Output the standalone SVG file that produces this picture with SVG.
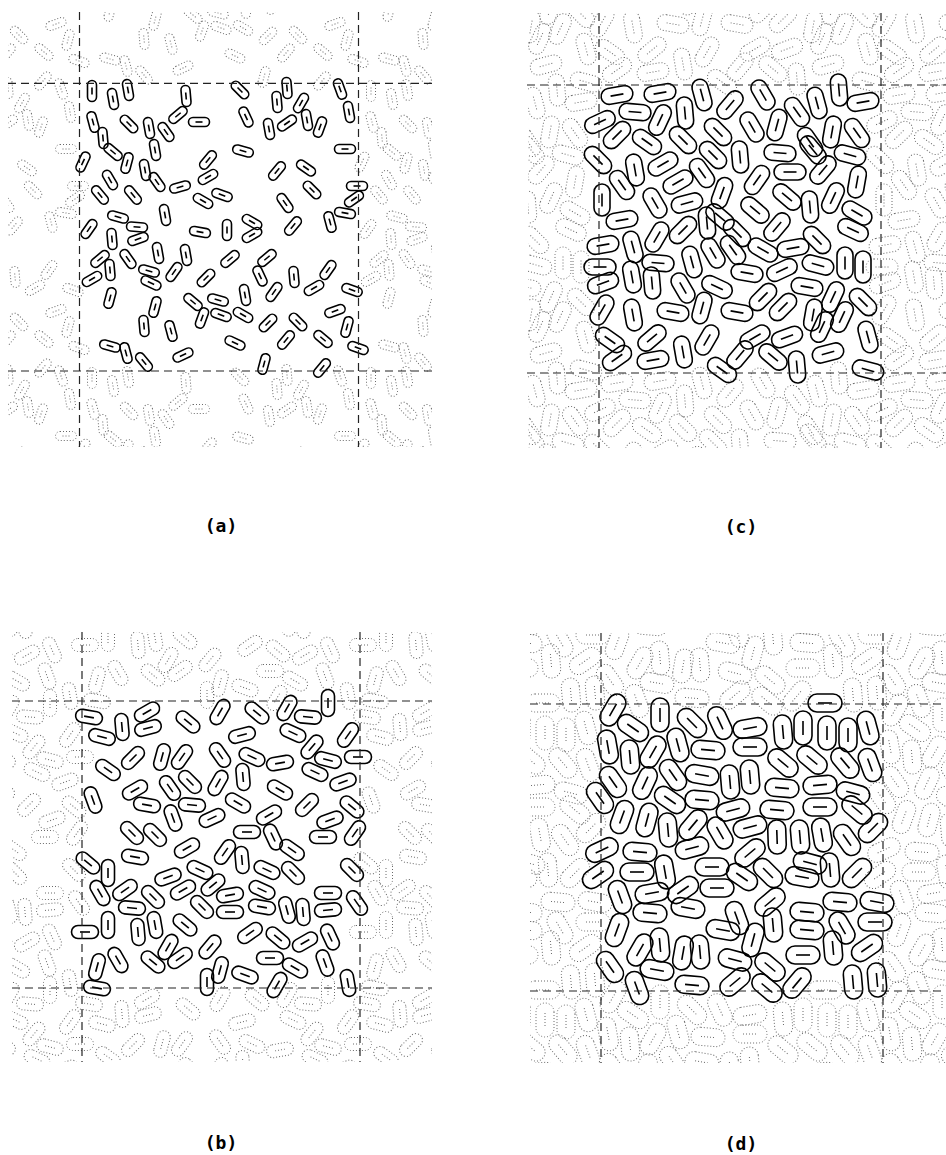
<svg xmlns="http://www.w3.org/2000/svg" width="946" height="1155" viewBox="0 0 946 1155">
<style>
.solid{fill:none;stroke:#000;stroke-width:1.6}
.img{fill:none;stroke:#6a6a6a;stroke-width:1;stroke-dasharray:1 2}
.box{fill:none;stroke:#222;stroke-width:1.2;stroke-dasharray:8 5}
.lbl{font-family:"DejaVu Sans Mono","Liberation Mono",monospace;font-size:18px;font-weight:bold;text-anchor:middle;fill:#000}
</style>
<defs>
<g id="cA"><rect x="-10.5" y="-4.5" width="21" height="9" rx="4.5"/><line x1="-3.5" y1="0" x2="3.5" y2="0"/></g>
<g id="cB"><rect x="-13.5" y="-6.5" width="27" height="13" rx="6.5"/><line x1="-5" y1="0" x2="5" y2="0"/></g>
<g id="cC"><rect x="-16" y="-8" width="32" height="16" rx="8"/><line x1="-6.5" y1="0" x2="6.5" y2="0"/></g>
<g id="cD"><rect x="-17" y="-9" width="34" height="18" rx="9"/><line x1="-7" y1="0" x2="7" y2="0"/></g>
<clipPath id="clipA"><rect x="8" y="12" width="424" height="435"/></clipPath>
<clipPath id="clipC"><rect x="528" y="13" width="418" height="435"/></clipPath>
<clipPath id="clipB"><rect x="12" y="632" width="420" height="430"/></clipPath>
<clipPath id="clipD"><rect x="530" y="633" width="416" height="430"/></clipPath>
<g id="pa">
<use href="#cA" transform="translate(92 91) rotate(90)"/>
<use href="#cA" transform="translate(113 99) rotate(80)"/>
<use href="#cA" transform="translate(128 90) rotate(80)"/>
<use href="#cA" transform="translate(186 96) rotate(85)"/>
<use href="#cA" transform="translate(240 90) rotate(45)"/>
<use href="#cA" transform="translate(287 88) rotate(85)"/>
<use href="#cA" transform="translate(277 102) rotate(85)"/>
<use href="#cA" transform="translate(301 103) rotate(-60)"/>
<use href="#cA" transform="translate(340 89) rotate(70)"/>
<use href="#cA" transform="translate(349 112) rotate(80)"/>
<use href="#cA" transform="translate(93 122) rotate(75)"/>
<use href="#cA" transform="translate(129 124) rotate(45)"/>
<use href="#cA" transform="translate(149 128) rotate(80)"/>
<use href="#cA" transform="translate(166 132) rotate(55)"/>
<use href="#cA" transform="translate(178 115) rotate(-40)"/>
<use href="#cA" transform="translate(199 122) rotate(0)"/>
<use href="#cA" transform="translate(246 117) rotate(65)"/>
<use href="#cA" transform="translate(269 129) rotate(80)"/>
<use href="#cA" transform="translate(287 123) rotate(-35)"/>
<use href="#cA" transform="translate(307 120) rotate(80)"/>
<use href="#cA" transform="translate(320 127) rotate(-70)"/>
<use href="#cA" transform="translate(103 138) rotate(85)"/>
<use href="#cA" transform="translate(113 152) rotate(40)"/>
<use href="#cA" transform="translate(155 150) rotate(80)"/>
<use href="#cA" transform="translate(127 163) rotate(-75)"/>
<use href="#cA" transform="translate(145 170) rotate(80)"/>
<use href="#cA" transform="translate(157 182) rotate(55)"/>
<use href="#cA" transform="translate(83 162) rotate(-65)"/>
<use href="#cA" transform="translate(110 180) rotate(60)"/>
<use href="#cA" transform="translate(180 187) rotate(-15)"/>
<use href="#cA" transform="translate(208 160) rotate(-50)"/>
<use href="#cA" transform="translate(208 177) rotate(-30)"/>
<use href="#cA" transform="translate(243 151) rotate(15)"/>
<use href="#cA" transform="translate(277 171) rotate(-50)"/>
<use href="#cA" transform="translate(306 168) rotate(35)"/>
<use href="#cA" transform="translate(345 149) rotate(0)"/>
<use href="#cA" transform="translate(312 190) rotate(45)"/>
<use href="#cA" transform="translate(357 186) rotate(0)"/>
<use href="#cA" transform="translate(354 199) rotate(-35)"/>
<use href="#cA" transform="translate(345 213) rotate(10)"/>
<use href="#cA" transform="translate(330 222) rotate(75)"/>
<use href="#cA" transform="translate(285 203) rotate(55)"/>
<use href="#cA" transform="translate(293 226) rotate(-50)"/>
<use href="#cA" transform="translate(222 195) rotate(20)"/>
<use href="#cA" transform="translate(203 201) rotate(30)"/>
<use href="#cA" transform="translate(165 215) rotate(80)"/>
<use href="#cA" transform="translate(133 195) rotate(50)"/>
<use href="#cA" transform="translate(100 195) rotate(50)"/>
<use href="#cA" transform="translate(118 217) rotate(15)"/>
<use href="#cA" transform="translate(137 227) rotate(5)"/>
<use href="#cA" transform="translate(138 239) rotate(-20)"/>
<use href="#cA" transform="translate(89 229) rotate(-55)"/>
<use href="#cA" transform="translate(112 239) rotate(85)"/>
<use href="#cA" transform="translate(200 232) rotate(10)"/>
<use href="#cA" transform="translate(227 230) rotate(90)"/>
<use href="#cA" transform="translate(252 222) rotate(30)"/>
<use href="#cA" transform="translate(252 235) rotate(-30)"/>
<use href="#cA" transform="translate(158 253) rotate(80)"/>
<use href="#cA" transform="translate(186 255) rotate(80)"/>
<use href="#cA" transform="translate(128 259) rotate(55)"/>
<use href="#cA" transform="translate(100 259) rotate(-40)"/>
<use href="#cA" transform="translate(92 279) rotate(-30)"/>
<use href="#cA" transform="translate(110 270) rotate(85)"/>
<use href="#cA" transform="translate(149 271) rotate(15)"/>
<use href="#cA" transform="translate(151 283) rotate(25)"/>
<use href="#cA" transform="translate(174 272) rotate(-55)"/>
<use href="#cA" transform="translate(230 259) rotate(-40)"/>
<use href="#cA" transform="translate(267 258) rotate(-40)"/>
<use href="#cA" transform="translate(260 276) rotate(65)"/>
<use href="#cA" transform="translate(206 278) rotate(-45)"/>
<use href="#cA" transform="translate(294 277) rotate(85)"/>
<use href="#cA" transform="translate(328 270) rotate(-55)"/>
<use href="#cA" transform="translate(314 288) rotate(-30)"/>
<use href="#cA" transform="translate(352 290) rotate(20)"/>
<use href="#cA" transform="translate(274 292) rotate(-55)"/>
<use href="#cA" transform="translate(245 295) rotate(80)"/>
<use href="#cA" transform="translate(110 298) rotate(-75)"/>
<use href="#cA" transform="translate(193 302) rotate(40)"/>
<use href="#cA" transform="translate(218 300) rotate(15)"/>
<use href="#cA" transform="translate(202 318) rotate(-70)"/>
<use href="#cA" transform="translate(155 307) rotate(-75)"/>
<use href="#cA" transform="translate(144 326) rotate(85)"/>
<use href="#cA" transform="translate(221 315) rotate(20)"/>
<use href="#cA" transform="translate(243 315) rotate(30)"/>
<use href="#cA" transform="translate(268 323) rotate(-45)"/>
<use href="#cA" transform="translate(298 322) rotate(45)"/>
<use href="#cA" transform="translate(335 311) rotate(-20)"/>
<use href="#cA" transform="translate(347 327) rotate(-75)"/>
<use href="#cA" transform="translate(171 331) rotate(75)"/>
<use href="#cA" transform="translate(286 340) rotate(-50)"/>
<use href="#cA" transform="translate(323 339) rotate(40)"/>
<use href="#cA" transform="translate(235 343) rotate(25)"/>
<use href="#cA" transform="translate(358 348) rotate(20)"/>
<use href="#cA" transform="translate(110 346) rotate(15)"/>
<use href="#cA" transform="translate(126 353) rotate(75)"/>
<use href="#cA" transform="translate(144 362) rotate(50)"/>
<use href="#cA" transform="translate(183 355) rotate(-25)"/>
<use href="#cA" transform="translate(264 364) rotate(-75)"/>
<use href="#cA" transform="translate(322 368) rotate(-50)"/>
</g>
<g id="pc">
<use href="#cC" transform="translate(617 95) rotate(-10)"/>
<use href="#cC" transform="translate(660 93) rotate(-10)"/>
<use href="#cC" transform="translate(702 95) rotate(75)"/>
<use href="#cC" transform="translate(730 105) rotate(-50)"/>
<use href="#cC" transform="translate(763 95) rotate(60)"/>
<use href="#cC" transform="translate(797 112) rotate(55)"/>
<use href="#cC" transform="translate(817 103) rotate(75)"/>
<use href="#cC" transform="translate(839 90) rotate(85)"/>
<use href="#cC" transform="translate(863 102) rotate(-10)"/>
<use href="#cC" transform="translate(600 122) rotate(-25)"/>
<use href="#cC" transform="translate(635 112) rotate(5)"/>
<use href="#cC" transform="translate(660 120) rotate(-65)"/>
<use href="#cC" transform="translate(685 113) rotate(85)"/>
<use href="#cC" transform="translate(718 132) rotate(45)"/>
<use href="#cC" transform="translate(752 127) rotate(60)"/>
<use href="#cC" transform="translate(777 125) rotate(-75)"/>
<use href="#cC" transform="translate(810 142) rotate(55)"/>
<use href="#cC" transform="translate(832 132) rotate(-80)"/>
<use href="#cC" transform="translate(857 133) rotate(55)"/>
<use href="#cC" transform="translate(598 160) rotate(45)"/>
<use href="#cC" transform="translate(617 135) rotate(-45)"/>
<use href="#cC" transform="translate(647 142) rotate(35)"/>
<use href="#cC" transform="translate(683 140) rotate(45)"/>
<use href="#cC" transform="translate(713 155) rotate(45)"/>
<use href="#cC" transform="translate(740 157) rotate(85)"/>
<use href="#cC" transform="translate(780 153) rotate(5)"/>
<use href="#cC" transform="translate(813 150) rotate(50)"/>
<use href="#cC" transform="translate(850 155) rotate(15)"/>
<use href="#cC" transform="translate(602 200) rotate(90)"/>
<use href="#cC" transform="translate(622 185) rotate(55)"/>
<use href="#cC" transform="translate(635 170) rotate(80)"/>
<use href="#cC" transform="translate(663 164) rotate(-30)"/>
<use href="#cC" transform="translate(678 182) rotate(-30)"/>
<use href="#cC" transform="translate(702 173) rotate(55)"/>
<use href="#cC" transform="translate(722 193) rotate(-70)"/>
<use href="#cC" transform="translate(757 180) rotate(-55)"/>
<use href="#cC" transform="translate(790 172) rotate(0)"/>
<use href="#cC" transform="translate(823 170) rotate(-50)"/>
<use href="#cC" transform="translate(857 182) rotate(-80)"/>
<use href="#cC" transform="translate(833 198) rotate(-65)"/>
<use href="#cC" transform="translate(810 207) rotate(85)"/>
<use href="#cC" transform="translate(787 197) rotate(40)"/>
<use href="#cC" transform="translate(755 210) rotate(40)"/>
<use href="#cC" transform="translate(720 217) rotate(40)"/>
<use href="#cC" transform="translate(687 203) rotate(-15)"/>
<use href="#cC" transform="translate(655 203) rotate(60)"/>
<use href="#cC" transform="translate(622 220) rotate(-10)"/>
<use href="#cC" transform="translate(857 213) rotate(30)"/>
<use href="#cC" transform="translate(853 230) rotate(25)"/>
<use href="#cC" transform="translate(817 240) rotate(45)"/>
<use href="#cC" transform="translate(777 227) rotate(-50)"/>
<use href="#cC" transform="translate(737 233) rotate(45)"/>
<use href="#cC" transform="translate(707 223) rotate(85)"/>
<use href="#cC" transform="translate(683 230) rotate(-45)"/>
<use href="#cC" transform="translate(657 237) rotate(-60)"/>
<use href="#cC" transform="translate(633 247) rotate(75)"/>
<use href="#cC" transform="translate(603 245) rotate(-10)"/>
<use href="#cC" transform="translate(600 267) rotate(0)"/>
<use href="#cC" transform="translate(603 283) rotate(-20)"/>
<use href="#cC" transform="translate(632 277) rotate(80)"/>
<use href="#cC" transform="translate(658 263) rotate(5)"/>
<use href="#cC" transform="translate(692 262) rotate(75)"/>
<use href="#cC" transform="translate(713 253) rotate(60)"/>
<use href="#cC" transform="translate(733 250) rotate(55)"/>
<use href="#cC" transform="translate(763 250) rotate(30)"/>
<use href="#cC" transform="translate(793 248) rotate(-10)"/>
<use href="#cC" transform="translate(818 265) rotate(15)"/>
<use href="#cC" transform="translate(845 263) rotate(90)"/>
<use href="#cC" transform="translate(863 267) rotate(90)"/>
<use href="#cC" transform="translate(782 270) rotate(-25)"/>
<use href="#cC" transform="translate(747 273) rotate(10)"/>
<use href="#cC" transform="translate(717 287) rotate(25)"/>
<use href="#cC" transform="translate(683 288) rotate(60)"/>
<use href="#cC" transform="translate(652 283) rotate(85)"/>
<use href="#cC" transform="translate(807 287) rotate(10)"/>
<use href="#cC" transform="translate(833 297) rotate(-65)"/>
<use href="#cC" transform="translate(863 302) rotate(45)"/>
<use href="#cC" transform="translate(602 310) rotate(-60)"/>
<use href="#cC" transform="translate(633 315) rotate(80)"/>
<use href="#cC" transform="translate(673 312) rotate(10)"/>
<use href="#cC" transform="translate(702 308) rotate(-75)"/>
<use href="#cC" transform="translate(737 312) rotate(10)"/>
<use href="#cC" transform="translate(763 297) rotate(-45)"/>
<use href="#cC" transform="translate(783 307) rotate(-45)"/>
<use href="#cC" transform="translate(813 315) rotate(-80)"/>
<use href="#cC" transform="translate(842 317) rotate(-65)"/>
<use href="#cC" transform="translate(868 337) rotate(75)"/>
<use href="#cC" transform="translate(610 340) rotate(35)"/>
<use href="#cC" transform="translate(652 338) rotate(-40)"/>
<use href="#cC" transform="translate(683 352) rotate(80)"/>
<use href="#cC" transform="translate(707 340) rotate(-60)"/>
<use href="#cC" transform="translate(755 337) rotate(-30)"/>
<use href="#cC" transform="translate(787 337) rotate(-20)"/>
<use href="#cC" transform="translate(822 327) rotate(-65)"/>
<use href="#cC" transform="translate(617 358) rotate(-35)"/>
<use href="#cC" transform="translate(653 360) rotate(-10)"/>
<use href="#cC" transform="translate(722 370) rotate(35)"/>
<use href="#cC" transform="translate(740 355) rotate(-50)"/>
<use href="#cC" transform="translate(773 357) rotate(40)"/>
<use href="#cC" transform="translate(797 367) rotate(85)"/>
<use href="#cC" transform="translate(828 353) rotate(-15)"/>
<use href="#cC" transform="translate(868 370) rotate(15)"/>
</g>
<g id="pb">
<use href="#cB" transform="translate(89 717) rotate(10)"/>
<use href="#cB" transform="translate(122 727) rotate(85)"/>
<use href="#cB" transform="translate(147 712) rotate(-30)"/>
<use href="#cB" transform="translate(102 737) rotate(15)"/>
<use href="#cB" transform="translate(148 728) rotate(-15)"/>
<use href="#cB" transform="translate(188 722) rotate(40)"/>
<use href="#cB" transform="translate(220 712) rotate(-60)"/>
<use href="#cB" transform="translate(257 713) rotate(40)"/>
<use href="#cB" transform="translate(287 708) rotate(-60)"/>
<use href="#cB" transform="translate(308 717) rotate(5)"/>
<use href="#cB" transform="translate(328 703) rotate(90)"/>
<use href="#cB" transform="translate(242 735) rotate(-15)"/>
<use href="#cB" transform="translate(293 733) rotate(25)"/>
<use href="#cB" transform="translate(348 735) rotate(-55)"/>
<use href="#cB" transform="translate(312 747) rotate(-50)"/>
<use href="#cB" transform="translate(108 770) rotate(35)"/>
<use href="#cB" transform="translate(133 758) rotate(-45)"/>
<use href="#cB" transform="translate(162 757) rotate(-75)"/>
<use href="#cB" transform="translate(182 757) rotate(-55)"/>
<use href="#cB" transform="translate(220 755) rotate(55)"/>
<use href="#cB" transform="translate(252 757) rotate(25)"/>
<use href="#cB" transform="translate(280 763) rotate(-10)"/>
<use href="#cB" transform="translate(328 760) rotate(15)"/>
<use href="#cB" transform="translate(358 757) rotate(0)"/>
<use href="#cB" transform="translate(315 772) rotate(25)"/>
<use href="#cB" transform="translate(343 782) rotate(-20)"/>
<use href="#cB" transform="translate(93 800) rotate(70)"/>
<use href="#cB" transform="translate(135 790) rotate(-30)"/>
<use href="#cB" transform="translate(147 805) rotate(10)"/>
<use href="#cB" transform="translate(170 788) rotate(55)"/>
<use href="#cB" transform="translate(190 782) rotate(45)"/>
<use href="#cB" transform="translate(192 805) rotate(5)"/>
<use href="#cB" transform="translate(218 783) rotate(-60)"/>
<use href="#cB" transform="translate(243 777) rotate(85)"/>
<use href="#cB" transform="translate(280 790) rotate(30)"/>
<use href="#cB" transform="translate(307 805) rotate(-45)"/>
<use href="#cB" transform="translate(238 803) rotate(30)"/>
<use href="#cB" transform="translate(212 818) rotate(-25)"/>
<use href="#cB" transform="translate(173 818) rotate(70)"/>
<use href="#cB" transform="translate(269 815) rotate(-30)"/>
<use href="#cB" transform="translate(352 807) rotate(40)"/>
<use href="#cB" transform="translate(330 820) rotate(-20)"/>
<use href="#cB" transform="translate(323 837) rotate(0)"/>
<use href="#cB" transform="translate(355 833) rotate(-55)"/>
<use href="#cB" transform="translate(132 833) rotate(45)"/>
<use href="#cB" transform="translate(155 835) rotate(45)"/>
<use href="#cB" transform="translate(187 848) rotate(-30)"/>
<use href="#cB" transform="translate(247 832) rotate(0)"/>
<use href="#cB" transform="translate(273 837) rotate(65)"/>
<use href="#cB" transform="translate(292 850) rotate(35)"/>
<use href="#cB" transform="translate(135 857) rotate(10)"/>
<use href="#cB" transform="translate(225 852) rotate(-55)"/>
<use href="#cB" transform="translate(242 860) rotate(85)"/>
<use href="#cB" transform="translate(200 870) rotate(25)"/>
<use href="#cB" transform="translate(168 877) rotate(-20)"/>
<use href="#cB" transform="translate(88 863) rotate(40)"/>
<use href="#cB" transform="translate(108 873) rotate(90)"/>
<use href="#cB" transform="translate(267 870) rotate(25)"/>
<use href="#cB" transform="translate(293 873) rotate(45)"/>
<use href="#cB" transform="translate(352 870) rotate(45)"/>
<use href="#cB" transform="translate(100 893) rotate(60)"/>
<use href="#cB" transform="translate(125 890) rotate(-35)"/>
<use href="#cB" transform="translate(153 897) rotate(45)"/>
<use href="#cB" transform="translate(183 890) rotate(-30)"/>
<use href="#cB" transform="translate(213 885) rotate(-40)"/>
<use href="#cB" transform="translate(230 895) rotate(-10)"/>
<use href="#cB" transform="translate(262 890) rotate(25)"/>
<use href="#cB" transform="translate(328 893) rotate(0)"/>
<use href="#cB" transform="translate(132 908) rotate(5)"/>
<use href="#cB" transform="translate(202 907) rotate(45)"/>
<use href="#cB" transform="translate(230 912) rotate(0)"/>
<use href="#cB" transform="translate(262 907) rotate(10)"/>
<use href="#cB" transform="translate(287 910) rotate(75)"/>
<use href="#cB" transform="translate(303 912) rotate(85)"/>
<use href="#cB" transform="translate(328 910) rotate(-5)"/>
<use href="#cB" transform="translate(357 903) rotate(55)"/>
<use href="#cB" transform="translate(85 932) rotate(0)"/>
<use href="#cB" transform="translate(108 925) rotate(90)"/>
<use href="#cB" transform="translate(138 932) rotate(85)"/>
<use href="#cB" transform="translate(155 925) rotate(80)"/>
<use href="#cB" transform="translate(185 925) rotate(40)"/>
<use href="#cB" transform="translate(250 933) rotate(-35)"/>
<use href="#cB" transform="translate(278 938) rotate(40)"/>
<use href="#cB" transform="translate(305 942) rotate(-30)"/>
<use href="#cB" transform="translate(330 937) rotate(65)"/>
<use href="#cB" transform="translate(168 947) rotate(-60)"/>
<use href="#cB" transform="translate(210 947) rotate(-50)"/>
<use href="#cB" transform="translate(97 967) rotate(-75)"/>
<use href="#cB" transform="translate(118 960) rotate(60)"/>
<use href="#cB" transform="translate(153 962) rotate(40)"/>
<use href="#cB" transform="translate(180 958) rotate(-35)"/>
<use href="#cB" transform="translate(207 982) rotate(90)"/>
<use href="#cB" transform="translate(220 970) rotate(-75)"/>
<use href="#cB" transform="translate(245 975) rotate(20)"/>
<use href="#cB" transform="translate(270 958) rotate(0)"/>
<use href="#cB" transform="translate(295 968) rotate(30)"/>
<use href="#cB" transform="translate(325 963) rotate(70)"/>
<use href="#cB" transform="translate(348 983) rotate(80)"/>
<use href="#cB" transform="translate(277 985) rotate(-60)"/>
<use href="#cB" transform="translate(97 988) rotate(10)"/>
</g>
<g id="pd">
<use href="#cD" transform="translate(613 710) rotate(-60)"/>
<use href="#cD" transform="translate(660 715) rotate(90)"/>
<use href="#cD" transform="translate(692 723) rotate(45)"/>
<use href="#cD" transform="translate(720 723) rotate(65)"/>
<use href="#cD" transform="translate(750 728) rotate(-10)"/>
<use href="#cD" transform="translate(825 703) rotate(0)"/>
<use href="#cD" transform="translate(633 728) rotate(35)"/>
<use href="#cD" transform="translate(783 732) rotate(85)"/>
<use href="#cD" transform="translate(803 728) rotate(90)"/>
<use href="#cD" transform="translate(827 733) rotate(90)"/>
<use href="#cD" transform="translate(848 735) rotate(90)"/>
<use href="#cD" transform="translate(868 728) rotate(75)"/>
<use href="#cD" transform="translate(608 747) rotate(80)"/>
<use href="#cD" transform="translate(630 757) rotate(85)"/>
<use href="#cD" transform="translate(653 752) rotate(-60)"/>
<use href="#cD" transform="translate(678 745) rotate(75)"/>
<use href="#cD" transform="translate(708 750) rotate(5)"/>
<use href="#cD" transform="translate(750 747) rotate(0)"/>
<use href="#cD" transform="translate(783 763) rotate(40)"/>
<use href="#cD" transform="translate(812 760) rotate(40)"/>
<use href="#cD" transform="translate(845 763) rotate(50)"/>
<use href="#cD" transform="translate(870 765) rotate(70)"/>
<use href="#cD" transform="translate(613 782) rotate(55)"/>
<use href="#cD" transform="translate(645 783) rotate(-65)"/>
<use href="#cD" transform="translate(673 775) rotate(55)"/>
<use href="#cD" transform="translate(702 775) rotate(10)"/>
<use href="#cD" transform="translate(730 782) rotate(85)"/>
<use href="#cD" transform="translate(750 777) rotate(85)"/>
<use href="#cD" transform="translate(782 788) rotate(5)"/>
<use href="#cD" transform="translate(820 785) rotate(-5)"/>
<use href="#cD" transform="translate(853 793) rotate(15)"/>
<use href="#cD" transform="translate(600 798) rotate(55)"/>
<use href="#cD" transform="translate(670 800) rotate(35)"/>
<use href="#cD" transform="translate(702 800) rotate(5)"/>
<use href="#cD" transform="translate(733 810) rotate(-15)"/>
<use href="#cD" transform="translate(777 810) rotate(5)"/>
<use href="#cD" transform="translate(820 807) rotate(0)"/>
<use href="#cD" transform="translate(857 810) rotate(40)"/>
<use href="#cD" transform="translate(622 817) rotate(-70)"/>
<use href="#cD" transform="translate(647 820) rotate(-75)"/>
<use href="#cD" transform="translate(668 830) rotate(85)"/>
<use href="#cD" transform="translate(693 825) rotate(-50)"/>
<use href="#cD" transform="translate(720 833) rotate(60)"/>
<use href="#cD" transform="translate(750 827) rotate(-15)"/>
<use href="#cD" transform="translate(777 837) rotate(88)"/>
<use href="#cD" transform="translate(800 837) rotate(85)"/>
<use href="#cD" transform="translate(822 835) rotate(80)"/>
<use href="#cD" transform="translate(847 840) rotate(55)"/>
<use href="#cD" transform="translate(873 828) rotate(-45)"/>
<use href="#cD" transform="translate(602 850) rotate(-25)"/>
<use href="#cD" transform="translate(640 852) rotate(5)"/>
<use href="#cD" transform="translate(692 848) rotate(-15)"/>
<use href="#cD" transform="translate(750 853) rotate(-40)"/>
<use href="#cD" transform="translate(810 863) rotate(15)"/>
<use href="#cD" transform="translate(857 873) rotate(-45)"/>
<use href="#cD" transform="translate(598 875) rotate(-35)"/>
<use href="#cD" transform="translate(637 872) rotate(0)"/>
<use href="#cD" transform="translate(665 872) rotate(80)"/>
<use href="#cD" transform="translate(712 867) rotate(0)"/>
<use href="#cD" transform="translate(742 877) rotate(35)"/>
<use href="#cD" transform="translate(768 873) rotate(45)"/>
<use href="#cD" transform="translate(802 877) rotate(10)"/>
<use href="#cD" transform="translate(830 870) rotate(85)"/>
<use href="#cD" transform="translate(620 897) rotate(70)"/>
<use href="#cD" transform="translate(652 893) rotate(-10)"/>
<use href="#cD" transform="translate(683 890) rotate(-35)"/>
<use href="#cD" transform="translate(717 888) rotate(0)"/>
<use href="#cD" transform="translate(770 902) rotate(-40)"/>
<use href="#cD" transform="translate(840 902) rotate(5)"/>
<use href="#cD" transform="translate(877 902) rotate(10)"/>
<use href="#cD" transform="translate(617 930) rotate(-70)"/>
<use href="#cD" transform="translate(650 913) rotate(5)"/>
<use href="#cD" transform="translate(688 908) rotate(10)"/>
<use href="#cD" transform="translate(737 918) rotate(70)"/>
<use href="#cD" transform="translate(773 925) rotate(85)"/>
<use href="#cD" transform="translate(807 912) rotate(5)"/>
<use href="#cD" transform="translate(842 928) rotate(60)"/>
<use href="#cD" transform="translate(875 922) rotate(0)"/>
<use href="#cD" transform="translate(640 950) rotate(-60)"/>
<use href="#cD" transform="translate(660 945) rotate(85)"/>
<use href="#cD" transform="translate(683 953) rotate(-80)"/>
<use href="#cD" transform="translate(700 952) rotate(85)"/>
<use href="#cD" transform="translate(723 930) rotate(10)"/>
<use href="#cD" transform="translate(753 940) rotate(-75)"/>
<use href="#cD" transform="translate(803 955) rotate(0)"/>
<use href="#cD" transform="translate(807 930) rotate(5)"/>
<use href="#cD" transform="translate(833 948) rotate(85)"/>
<use href="#cD" transform="translate(867 948) rotate(-35)"/>
<use href="#cD" transform="translate(610 967) rotate(55)"/>
<use href="#cD" transform="translate(657 970) rotate(10)"/>
<use href="#cD" transform="translate(692 985) rotate(5)"/>
<use href="#cD" transform="translate(735 960) rotate(15)"/>
<use href="#cD" transform="translate(770 967) rotate(40)"/>
<use href="#cD" transform="translate(735 982) rotate(-40)"/>
<use href="#cD" transform="translate(767 988) rotate(40)"/>
<use href="#cD" transform="translate(797 983) rotate(-50)"/>
<use href="#cD" transform="translate(637 988) rotate(70)"/>
<use href="#cD" transform="translate(853 982) rotate(85)"/>
<use href="#cD" transform="translate(877 980) rotate(85)"/>
</g>
</defs>
<rect width="946" height="1155" fill="#fff"/>

<g id="panel-a">
<g class="img" clip-path="url(#clipA)">
<use href="#pa" x="-279" y="-287"/><use href="#pa" x="0" y="-287"/><use href="#pa" x="279" y="-287"/>
<use href="#pa" x="-279" y="0"/><use href="#pa" x="279" y="0"/>
<use href="#pa" x="-279" y="287"/><use href="#pa" x="0" y="287"/><use href="#pa" x="279" y="287"/>
</g>
<g class="solid"><use href="#pa"/></g>
<g class="box">
<line x1="8" y1="83.3" x2="432" y2="83.3"/><line x1="8" y1="371" x2="432" y2="371"/>
<line x1="79.5" y1="12" x2="79.5" y2="447"/><line x1="358.5" y1="12" x2="358.5" y2="447"/>
</g>
<text class="lbl" x="221" y="532">(a)</text>
</g>

<g id="panel-c">
<g class="img" clip-path="url(#clipC)">
<use href="#pc" x="-282" y="-288"/><use href="#pc" x="0" y="-288"/><use href="#pc" x="282" y="-288"/>
<use href="#pc" x="-282" y="0"/><use href="#pc" x="282" y="0"/>
<use href="#pc" x="-282" y="288"/><use href="#pc" x="0" y="288"/><use href="#pc" x="282" y="288"/>
</g>
<g class="solid"><use href="#pc"/></g>
<g class="box">
<line x1="527" y1="85" x2="946" y2="85"/><line x1="527" y1="373" x2="946" y2="373"/>
<line x1="599" y1="13" x2="599" y2="448"/><line x1="881" y1="13" x2="881" y2="448"/>
</g>
<text class="lbl" x="741" y="533">(c)</text>
</g>

<g id="panel-b">
<g class="img" clip-path="url(#clipB)">
<use href="#pb" x="-278" y="-287"/><use href="#pb" x="0" y="-287"/><use href="#pb" x="278" y="-287"/>
<use href="#pb" x="-278" y="0"/><use href="#pb" x="278" y="0"/>
<use href="#pb" x="-278" y="287"/><use href="#pb" x="0" y="287"/><use href="#pb" x="278" y="287"/>
</g>
<g class="solid"><use href="#pb"/></g>
<g class="box">
<line x1="12" y1="701" x2="432" y2="701"/><line x1="12" y1="988" x2="432" y2="988"/>
<line x1="82" y1="632" x2="82" y2="1062"/><line x1="360" y1="632" x2="360" y2="1062"/>
</g>
<text class="lbl" x="221" y="1149">(b)</text>
</g>

<g id="panel-d">
<g class="img" clip-path="url(#clipD)">
<use href="#pd" x="-282" y="-287"/><use href="#pd" x="0" y="-287"/><use href="#pd" x="282" y="-287"/>
<use href="#pd" x="-282" y="0"/><use href="#pd" x="282" y="0"/>
<use href="#pd" x="-282" y="287"/><use href="#pd" x="0" y="287"/><use href="#pd" x="282" y="287"/>
</g>
<g class="solid"><use href="#pd"/></g>
<g class="box">
<line x1="530" y1="704" x2="946" y2="704"/><line x1="530" y1="991" x2="946" y2="991"/>
<line x1="601" y1="633" x2="601" y2="1063"/><line x1="883" y1="633" x2="883" y2="1063"/>
</g>
<text class="lbl" x="741" y="1150">(d)</text>
</g>
</svg>
